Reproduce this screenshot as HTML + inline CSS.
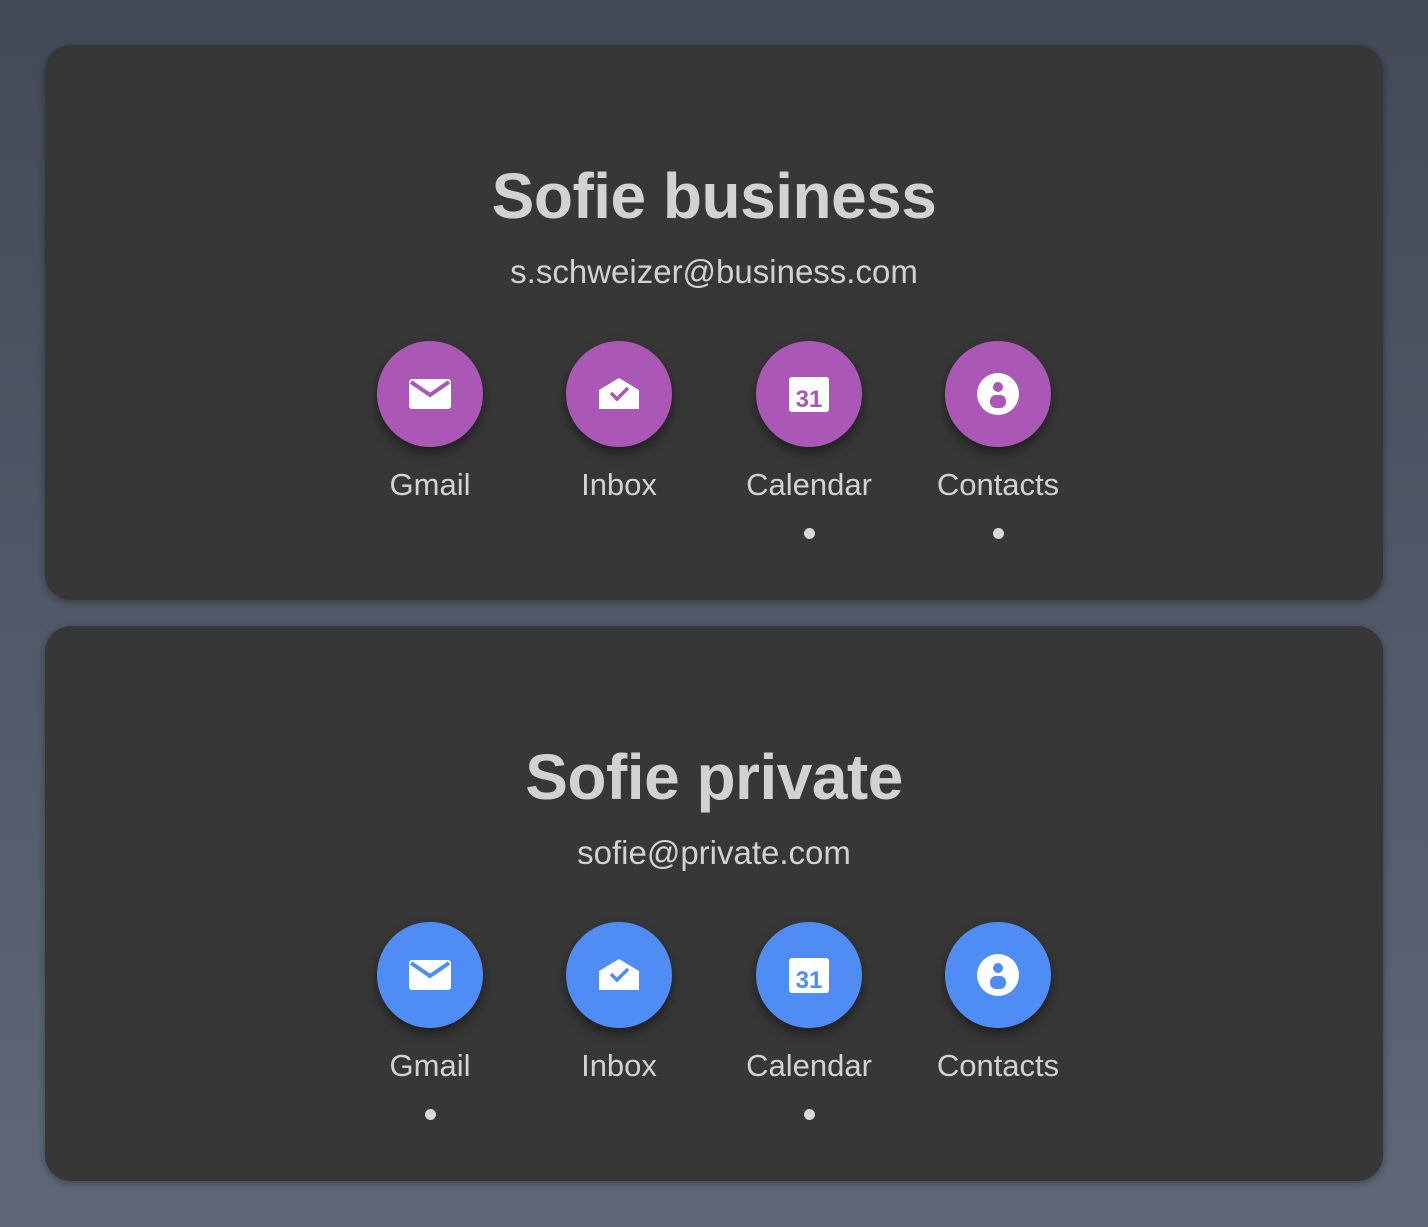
<!DOCTYPE html>
<html><head><style>
html,body{margin:0;padding:0}
body{width:1428px;height:1227px;background:linear-gradient(#434a57,#5e6879);font-family:"Liberation Sans",sans-serif;position:relative;overflow:hidden}
.card{position:absolute;left:45px;width:1338px;height:555px;background:#373737;border-radius:26px;box-shadow:0 2px 8px rgba(0,0,0,.35)}
.t{position:absolute;left:0;width:100%;text-align:center;color:#d2d2d2}
.title{top:114px;font-size:64px;font-weight:bold;letter-spacing:-0.5px}
.mail{top:208px;font-size:33px}
.app{position:absolute;top:296px;width:190px;margin-left:-95px;text-align:center}
.c{width:106px;height:106px;border-radius:50%;margin:0 auto;box-shadow:0 6px 12px rgba(0,0,0,.45);display:flex;align-items:center;justify-content:center}
.lab{color:#d2d2d2;font-size:31px;margin-top:20px}
.dot{width:11px;height:11px;border-radius:50%;background:#d8d8d8;margin:25px auto 0}
.p .c{background:#ab57b5}.b .c{background:#4f8df5}
</style></head><body>
<div class="card p" style="top:45px">
<div class="t title">Sofie business</div>
<div class="t mail">s.schweizer@business.com</div>
<div class="app" style="left:385px"><div class="c"><svg width="44" height="32" viewBox="0 0 44 32"><rect x="1" y="1" width="42" height="30" rx="3" fill="#fff"/><path d="M3 4 L22 17 L41 4" fill="none" stroke="#ab57b5" stroke-width="4"/></svg></div><div class="lab">Gmail</div></div>
<div class="app" style="left:574px"><div class="c"><svg width="44" height="36" viewBox="0 0 44 36"><path d="M2 14 L22 2 L42 14 V33 H2Z" fill="#fff"/><path d="M14 17 L20 23 L31 12" fill="none" stroke="#ab57b5" stroke-width="3.5"/></svg></div><div class="lab">Inbox</div></div>
<div class="app" style="left:764px"><div class="c"><svg width="42" height="38" viewBox="0 0 42 38"><rect x="1" y="2" width="40" height="35" rx="3" fill="#fff"/><text x="21" y="32" text-anchor="middle" font-size="24" font-weight="bold" fill="#ab57b5" font-family="Liberation Sans">31</text></svg></div><div class="lab">Calendar</div><div class="dot"></div></div>
<div class="app" style="left:953px"><div class="c"><svg width="44" height="44" viewBox="0 0 44 44"><circle cx="22" cy="22" r="21" fill="#fff"/><circle cx="22" cy="15" r="5" fill="#ab57b5"/><rect x="14" y="23" width="16" height="13" rx="6" fill="#ab57b5"/></svg></div><div class="lab">Contacts</div><div class="dot"></div></div>
</div>
<div class="card b" style="top:626px">
<div class="t title">Sofie private</div>
<div class="t mail">sofie@private.com</div>
<div class="app" style="left:385px"><div class="c"><svg width="44" height="32" viewBox="0 0 44 32"><rect x="1" y="1" width="42" height="30" rx="3" fill="#fff"/><path d="M3 4 L22 17 L41 4" fill="none" stroke="#4f8df5" stroke-width="4"/></svg></div><div class="lab">Gmail</div><div class="dot"></div></div>
<div class="app" style="left:574px"><div class="c"><svg width="44" height="36" viewBox="0 0 44 36"><path d="M2 14 L22 2 L42 14 V33 H2Z" fill="#fff"/><path d="M14 17 L20 23 L31 12" fill="none" stroke="#4f8df5" stroke-width="3.5"/></svg></div><div class="lab">Inbox</div></div>
<div class="app" style="left:764px"><div class="c"><svg width="42" height="38" viewBox="0 0 42 38"><rect x="1" y="2" width="40" height="35" rx="3" fill="#fff"/><text x="21" y="32" text-anchor="middle" font-size="24" font-weight="bold" fill="#4f8df5" font-family="Liberation Sans">31</text></svg></div><div class="lab">Calendar</div><div class="dot"></div></div>
<div class="app" style="left:953px"><div class="c"><svg width="44" height="44" viewBox="0 0 44 44"><circle cx="22" cy="22" r="21" fill="#fff"/><circle cx="22" cy="15" r="5" fill="#4f8df5"/><rect x="14" y="23" width="16" height="13" rx="6" fill="#4f8df5"/></svg></div><div class="lab">Contacts</div></div>
</div>
</body></html>
